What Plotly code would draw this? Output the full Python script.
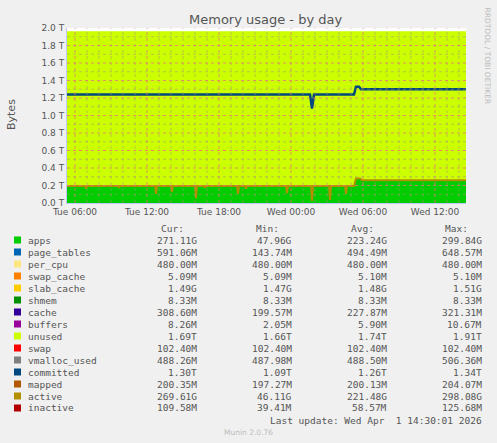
import plotly.graph_objects as go
import pandas as pd

D1, D2 = "2026-03-31 ", "2026-04-01 "
apps_t = [D1+"05:20", D1+"06:50", D1+"06:55", D1+"07:00", D1+"09:35", D1+"09:40", D1+"09:45",
          D1+"12:40", D1+"12:45", D1+"12:50", D1+"14:00", D1+"14:05", D1+"14:10",
          D1+"16:00", D1+"16:05", D1+"16:10", D1+"16:45", D1+"16:50", D1+"16:55",
          D1+"19:30", D1+"19:35", D1+"19:40", D1+"20:10", D1+"20:15", D1+"20:20",
          D1+"23:35", D1+"23:40", D1+"23:45", D2+"01:40", D2+"01:45", D2+"01:50",
          D2+"03:10", D2+"03:15", D2+"03:20", D2+"04:30", D2+"04:35", D2+"04:40",
          D2+"05:15", D2+"05:25", D2+"05:45", D2+"05:55", D2+"14:35"]
apps_v = [0.19, 0.19, 0.165, 0.19, 0.19, 0.17, 0.19,
          0.19, 0.10, 0.19, 0.19, 0.12, 0.19,
          0.19, 0.05, 0.19, 0.19, 0.17, 0.19,
          0.19, 0.10, 0.19, 0.19, 0.16, 0.19,
          0.19, 0.11, 0.19, 0.19, 0.02, 0.19,
          0.19, 0.03, 0.19, 0.19, 0.10, 0.19,
          0.19, 0.275, 0.275, 0.255, 0.255]
committed_t = [D1+"05:20", D2+"01:35", D2+"01:45", D2+"01:55", D2+"05:15", D2+"05:25", D2+"05:40", D2+"05:50", D2+"14:35"]
committed_v = [1.24, 1.24, 1.08, 1.24, 1.24, 1.33, 1.33, 1.30, 1.30]
total_mem = 1.963  # T
small_stacks = {"page_tables": 0.00059, "per_cpu": 0.00048, "swap_cache": 0.000005,
                "slab_cache": 0.0015, "shmem": 0.0000083, "cache": 0.0003, "buffers": 0.0000083}

names = ["apps", "page_tables", "per_cpu", "swap_cache", "slab_cache", "shmem", "cache", "buffers",
         "unused", "swap", "vmalloc_used", "committed", "mapped", "active", "inactive"]
colors = ["#00CC00", "#0066B3", "#FFE680", "#FF8000", "#FFCC00", "#008F00", "#330099", "#990099",
          "#CCFF00", "#FF0000", "#808080", "#00487D", "#B35A00", "#B38F00", "#B30000"]
cur = ["271.11G", "591.06M", "480.00M", "5.09M", "1.49G", "8.33M", "308.60M", "8.26M", "1.69T",
       "102.40M", "488.26M", "1.30T", "200.35M", "269.61G", "109.58M"]
mn = ["47.96G", "143.74M", "480.00M", "5.09M", "1.47G", "8.33M", "199.57M", "2.05M", "1.66T",
      "102.40M", "487.98M", "1.09T", "197.27M", "46.11G", "39.41M"]
avg = ["223.24G", "494.49M", "480.00M", "5.10M", "1.48G", "8.33M", "227.87M", "5.90M", "1.74T",
       "102.40M", "488.50M", "1.26T", "200.13M", "221.48G", "58.57M"]
mx = ["299.84G", "648.57M", "480.00M", "5.10M", "1.51G", "8.33M", "321.31M", "10.67M", "1.91T",
      "102.40M", "506.36M", "1.34T", "204.07M", "298.08G", "125.68M"]

fig = go.Figure()
fig.add_trace(go.Scatter(x=apps_t, y=apps_v, stackgroup="s", line=dict(width=0), fillcolor=colors[0], mode="lines"))
small_sum = sum(small_stacks.values())
for i, (k, v) in enumerate(small_stacks.items()):
    fig.add_trace(go.Scatter(x=apps_t, y=[v]*len(apps_t), stackgroup="s", line=dict(width=0),
                             fillcolor=colors[1+i], mode="lines"))
unused = [total_mem - a - small_sum for a in apps_v]
fig.add_trace(go.Scatter(x=apps_t, y=unused, stackgroup="s", line=dict(width=0), fillcolor=colors[8], mode="lines"))
fig.add_trace(go.Scatter(x=apps_t, y=[a+0.004 for a in apps_v], mode="lines", line=dict(color=colors[13], width=2)))
fig.add_trace(go.Scatter(x=committed_t, y=committed_v, mode="lines", line=dict(color=colors[11], width=2.5)))

def px(x): return (x - 67) / (466 - 67)
def py(y): return 1 - (y - 28) / (203 - 28)

fnt = "DejaVu Sans Mono"
ann, shapes = [], []
ann.append(dict(text="Memory usage - by day", x=265, y=19, xanchor="center", yanchor="middle",
                font=dict(family="DejaVu Sans", size=13, color="#555")))
ann.append(dict(text="Bytes", x=11, y=115, textangle=-90, xanchor="center", yanchor="middle",
                font=dict(family="DejaVu Sans", size=11, color="#555")))
ann.append(dict(text="RRDTOOL / TOBI OETIKER", x=487, y=5, textangle=90, xanchor="center", yanchor="top",
                font=dict(family="DejaVu Sans", size=7.5, color="#bbb")))
for lbl, xr in zip(["Cur:", "Min:", "Avg:", "Max:"], [186, 281, 376, 470]):
    ann.append(dict(text=lbl, x=xr, y=228, xanchor="right", yanchor="middle", font=dict(family=fnt, size=9.5, color="#555")))
for i, n in enumerate(names):
    y = 240 + 12*i
    shapes.append(dict(type="rect", xref="paper", yref="paper", x0=px(14), x1=px(21), y0=py(y-3.5), y1=py(y+3.5),
                       fillcolor=colors[i], line=dict(width=0)))
    ann.append(dict(text=n, x=26, y=y, xanchor="left", yanchor="middle", font=dict(family=fnt, size=9.5, color="#555")))
    for val, xr in zip([cur[i], mn[i], avg[i], mx[i]], [199, 294, 389, 484]):
        ann.append(dict(text=val, x=xr, y=y, xanchor="right", yanchor="middle", font=dict(family=fnt, size=9.5, color="#555")))
ann.append(dict(text="Last update: Wed Apr  1 14:30:01 2026", x=484, y=420, xanchor="right", yanchor="middle",
                font=dict(family=fnt, size=9.5, color="#555")))
ann.append(dict(text="Munin 2.0.76", x=248, y=432, xanchor="center", yanchor="middle",
                font=dict(family="DejaVu Sans", size=7.5, color="#bbb")))
for a in ann:
    a.update(xref="paper", yref="paper", showarrow=False)
    a["x"] = px(a["x"])
    a["y"] = py(a["y"])

# grid drawn above data, as rrdtool does
for h in pd.date_range(D1+"06:00", D2+"14:00", freq="1h"):
    major = h.hour % 6 == 0
    shapes.append(dict(type="line", xref="x", yref="paper", x0=h, x1=h, y0=0, y1=1, layer="above",
                       line=dict(color="rgba(230,120,120,0.8)" if major else "rgba(170,150,120,0.55)", width=1, dash="dot")))
for k in range(1, 20):
    yv = k * 0.1
    major = k % 2 == 0
    shapes.append(dict(type="line", xref="paper", yref="y", x0=0, x1=1, y0=yv, y1=yv, layer="above",
                       line=dict(color="rgba(230,120,120,0.8)" if major else "rgba(170,150,120,0.55)", width=1, dash="dot")))

fig.update_layout(
    width=497, height=443, margin=dict(l=67, r=31, t=28, b=240, autoexpand=False),
    paper_bgcolor="#f0f0f0", plot_bgcolor="#ffffff", showlegend=False, annotations=ann, shapes=shapes,
    xaxis=dict(type="date", range=[D1+"05:20", D2+"14:35"], tickformat="%a %H:%M",
               tick0=D1+"06:00", dtick=6*3600*1000, showgrid=False,
               tickfont=dict(family="DejaVu Sans", size=9, color="#555"), ticks="", zeroline=False,
               showline=True, linecolor="#c0c8ff"),
    yaxis=dict(range=[0, 2.0], dtick=0.2, tickformat=".1f", ticksuffix=" T", showgrid=False,
               tickfont=dict(family="DejaVu Sans", size=9, color="#555"), ticks="", zeroline=False,
               showline=True, linecolor="#c0c8ff"),
)
fig.write_html("out.html", config={"displayModeBar": False},
               post_script="document.body.style.margin='0';document.body.style.background='#f0f0f0';")
